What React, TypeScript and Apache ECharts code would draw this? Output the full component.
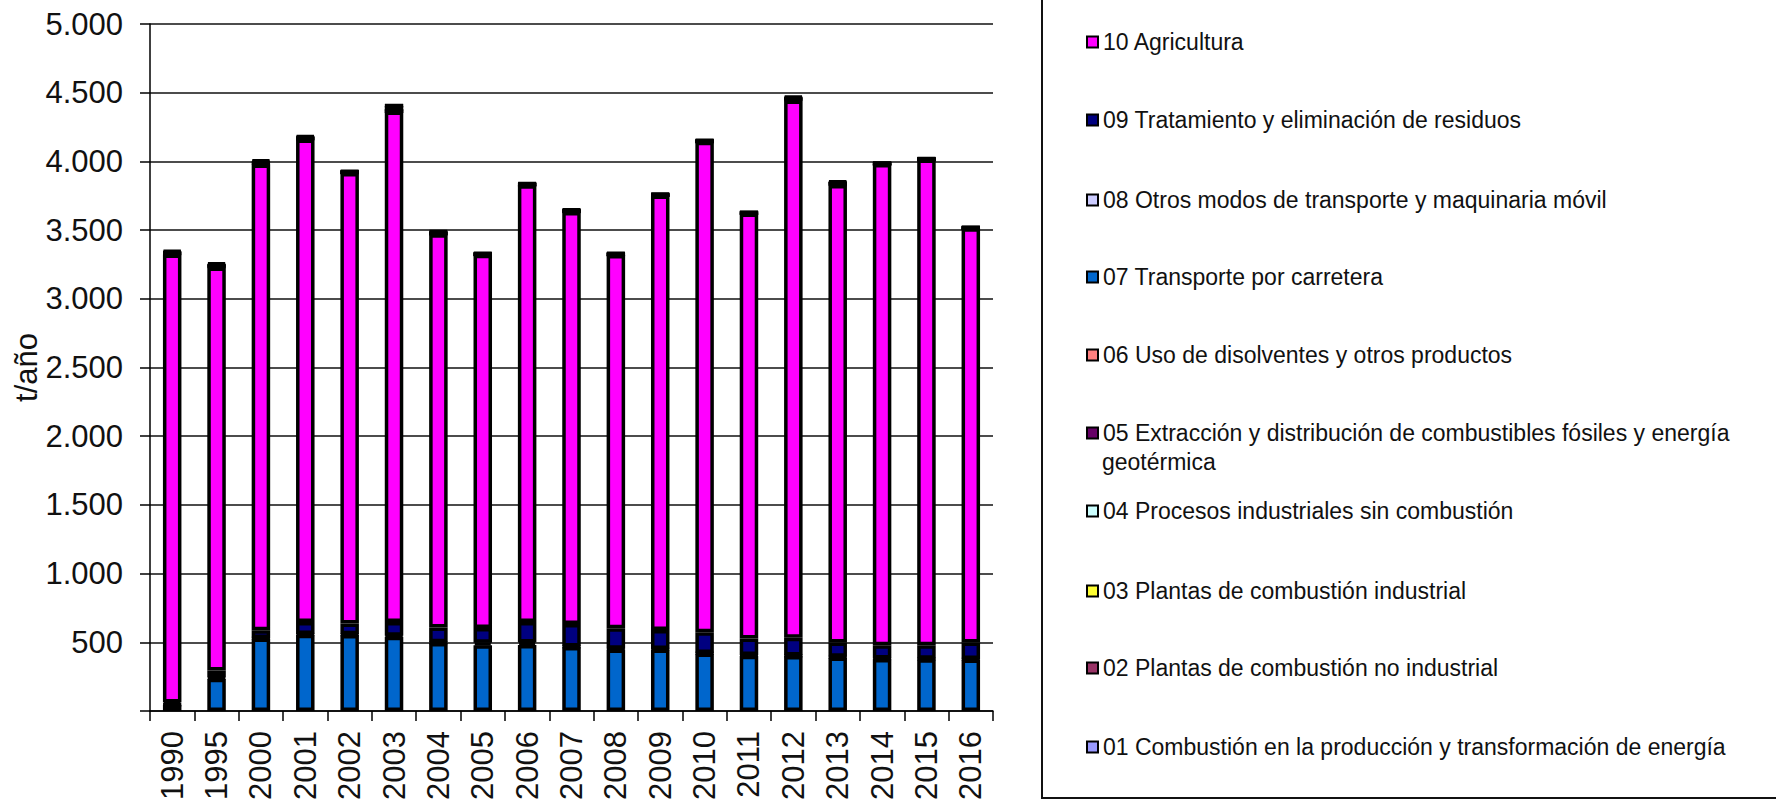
import React, { useEffect, useRef } from 'react';
import * as echarts from 'echarts';

const years = ['1990', '1995', '2000', '2001', '2002', '2003', '2004', '2005', '2006', '2007', '2008', '2009', '2010', '2011', '2012', '2013', '2014', '2015', '2016'];

const s07 = [45, 235, 528, 555, 553, 540, 495, 478, 480, 465, 448, 447, 418, 403, 400, 390, 378, 376, 375];
const s08 = [2, 8, 3, 5, 5, 8, 5, 18, 18, 5, 5, 5, 4, 4, 4, 4, 4, 4, 4];
const s09 = [14, 52, 56, 87, 78, 100, 108, 108, 150, 164, 150, 138, 151, 121, 129, 105, 97, 98, 120];
const s10 = [3262, 2932, 3390, 3512, 3280, 3716, 2862, 2716, 3178, 2998, 2716, 3162, 3570, 3092, 3910, 3330, 3502, 3535, 3014];
const s06 = [6, 8, 8, 6, 4, 2, 5, 3, 4, 5, 3, 2, 2, 3, 8, 7, 1, 1, 1];
const s05 = [2, 2, 2, 2, 1, 1, 1, 1, 1, 1, 1, 1, 1, 1, 2, 1, 1, 1, 1];
const s04 = [2, 2, 2, 2, 1, 1, 2, 1, 1, 1, 1, 1, 1, 1, 2, 2, 1, 1, 1];
const s03 = [3, 4, 4, 3, 2, 36, 3, 2, 2, 3, 2, 2, 2, 2, 4, 4, 2, 2, 2];
const s02 = [6, 7, 7, 6, 3, 2, 5, 3, 3, 4, 3, 3, 3, 2, 6, 5, 2, 2, 2];
const s01 = [8, 9, 9, 8, 4, 2, 6, 4, 4, 5, 4, 3, 3, 3, 8, 7, 2, 3, 3];

const N10 = '10 Agricultura';
const N09 = '09 Tratamiento y eliminación de residuos';
const N08 = '08 Otros modos de transporte y maquinaria móvil';
const N07 = '07 Transporte por carretera';
const N06 = '06 Uso de disolventes y otros productos';
const N05 = '05 Extracción y distribución de combustibles fósiles y energía geotérmica';
const N04 = '04 Procesos industriales sin combustión';
const N03 = '03 Plantas de combustión industrial';
const N02 = '02 Plantas de combustión no industrial';
const N01 = '01 Combustión en la producción y transformación de energía';

const FONT = '"Liberation Sans", Arial, sans-serif';

export default function App() {
  const ref = useRef<HTMLDivElement>(null);
  useEffect(() => {
    document.body.style.margin = '0';
    if (!ref.current) return;
    const chart = echarts.init(ref.current, null, { renderer: 'svg' });

    const stackOrder: [string, number[], string][] = [
      [N07, s07, '#0066CC'],
      [N08, s08, '#CCCCFF'],
      [N09, s09, '#000080'],
      [N10, s10, '#FF00FF'],
      [N06, s06, '#FF8080'],
      [N05, s05, '#660066'],
      [N04, s04, '#CCFFFF'],
      [N03, s03, '#FFFF33'],
      [N02, s02, '#993366'],
      [N01, s01, '#9999FF'],
    ];

    const series = stackOrder.map(([name, data, color]) => ({
      name,
      type: 'bar',
      stack: 'total',
      data,
      barWidth: 18.5,
      itemStyle: { color, borderColor: '#000', borderWidth: 3.5 },
      emphasis: { disabled: true },
    }));

    const legendRows: [string, number][] = [
      [N10, 42], [N09, 120], [N08, 200], [N07, 277], [N06, 355],
      [N05, 433], [N04, 511], [N03, 591], [N02, 668], [N01, 747],
    ];

    const legends = legendRows.map(([name, cy]) => ({
      data: [name],
      left: 1086,
      top: cy - 14,
      orient: 'vertical',
      padding: 0,
      icon: 'rect',
      itemWidth: 11,
      itemHeight: 11,
      selectedMode: false,
      itemStyle: { borderColor: '#000', borderWidth: 2 },
      formatter: name === N05 ? () => '05 Extracción y distribución de combustibles fósiles y energía' : undefined,
      textStyle: { fontSize: 23, fontFamily: FONT, color: '#111', lineHeight: 28 },
    }));

    const fmt = (v: number) => {
      if (v === 0) return '';
      if (v < 1000) return String(v);
      const th = Math.floor(v / 1000);
      const rest = String(v % 1000).padStart(3, '0');
      return th + '.' + rest;
    };

    chart.setOption({
      animation: false,
      backgroundColor: '#fff',
      grid: { left: 150, right: 783, top: 24, bottom: 98, containLabel: false },
      legend: legends,
      xAxis: {
        type: 'category',
        data: years,
        boundaryGap: true,
        axisLine: { show: true, lineStyle: { color: '#000', width: 1.5 } },
        axisTick: { show: true, length: 10, lineStyle: { color: '#000', width: 1.5 } },
        axisLabel: { rotate: 90, margin: 20, fontSize: 31, fontFamily: FONT, color: '#111', interval: 0 },
      },
      yAxis: {
        type: 'value',
        min: 0,
        max: 5000,
        interval: 500,
        name: 't/año',
        nameLocation: 'middle',
        nameGap: 99,
        nameTextStyle: { fontSize: 31, fontFamily: FONT, color: '#111' },
        axisLine: { show: true, lineStyle: { color: '#000', width: 1.5 } },
        axisTick: { show: true, length: 10, lineStyle: { color: '#000', width: 1.5 } },
        axisLabel: { margin: 27, fontSize: 31, fontFamily: FONT, color: '#111', formatter: fmt },
        splitLine: { show: true, lineStyle: { color: '#111', width: 1.5 } },
      },
      graphic: [
        {
          type: 'rect',
          shape: { x: 1042, y: -10, width: 800, height: 808 },
          style: { fill: 'none', stroke: '#111', lineWidth: 2 },
          silent: true,
        },
        {
          type: 'text',
          x: 1102,
          y: 462,
          style: { text: 'geotérmica', fontSize: 23, fontFamily: FONT, fill: '#111', verticalAlign: 'middle', align: 'left' },
          silent: true,
        },
      ],
      series,
    });

    return () => chart.dispose();
  }, []);

  return <div ref={ref} style={{ width: 1776, height: 809 }} />;
}
